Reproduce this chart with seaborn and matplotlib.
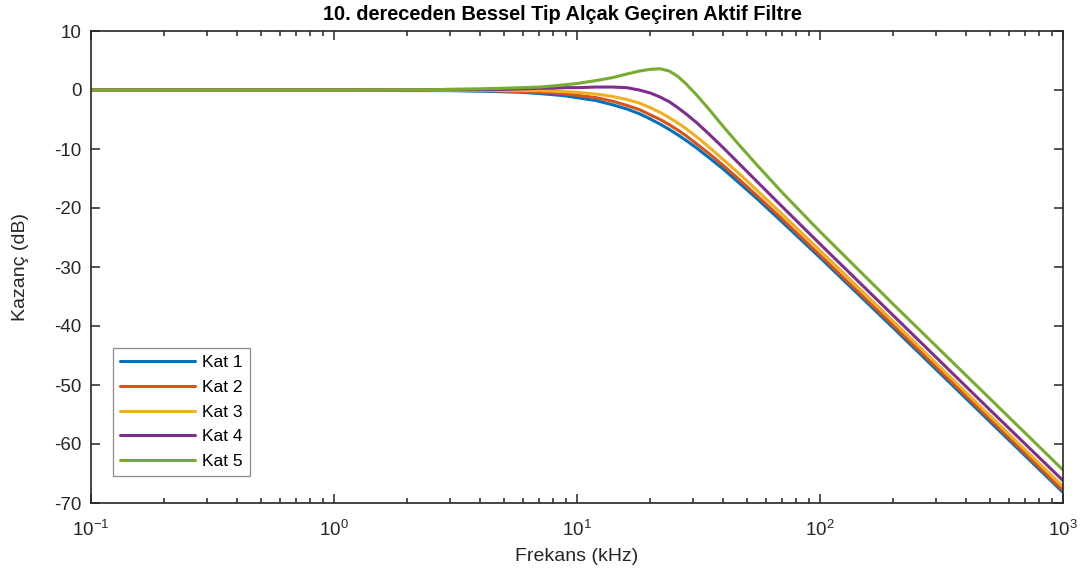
import matplotlib
matplotlib.use("Agg")
import numpy as np
import pandas as pd
import seaborn as sns
import matplotlib.pyplot as plt
from matplotlib.ticker import LogLocator, NullFormatter

# Frequency points (kHz) and gain (dB) of each filter stage
freq_khz = [0.1, 0.5, 1, 2, 3, 4, 5, 6, 7, 8, 9, 10, 12, 14, 16, 18, 20, 22, 24, 26,
            28, 31, 35, 40, 46, 55, 70, 100, 200, 500, 1000]
kat1 = [0.0, 0.0, 0.0, -0.1, -0.1, -0.2, -0.3, -0.4, -0.6, -0.8, -1.0, -1.3, -1.8, -2.5,
        -3.2, -4.0, -4.9, -5.8, -6.7, -7.6, -8.5, -9.8, -11.5, -13.4, -15.6, -18.4, -22.4,
        -28.4, -40.3, -56.2, -68.2]
kat2 = [0.0, 0.0, 0.0, 0.0, -0.1, -0.1, -0.2, -0.3, -0.4, -0.5, -0.7, -0.9, -1.3, -1.9,
        -2.6, -3.3, -4.2, -5.0, -5.9, -6.8, -7.7, -9.1, -10.8, -12.8, -15.0, -17.9, -21.9,
        -28.0, -39.9, -55.8, -67.9]
kat3 = [0.0, 0.0, 0.0, 0.0, 0.0, 0.0, -0.1, -0.1, -0.1, -0.2, -0.3, -0.4, -0.7, -1.1,
        -1.6, -2.2, -3.0, -3.8, -4.7, -5.6, -6.5, -7.9, -9.7, -11.8, -14.0, -17.0, -21.1,
        -27.2, -39.2, -55.2, -67.2]
kat4 = [0.0, 0.0, 0.0, 0.0, 0.1, 0.1, 0.1, 0.2, 0.3, 0.3, 0.4, 0.4, 0.5, 0.5,
        0.4, 0.0, -0.5, -1.2, -2.0, -3.0, -4.0, -5.5, -7.5, -9.8, -12.3, -15.5, -19.8,
        -26.1, -38.2, -54.2, -66.2]
kat5 = [0.0, 0.0, 0.0, 0.0, 0.1, 0.2, 0.3, 0.4, 0.5, 0.7, 0.9, 1.1, 1.6, 2.1,
        2.7, 3.2, 3.5, 3.6, 3.2, 2.3, 1.1, -0.8, -3.3, -6.2, -9.1, -12.7, -17.4,
        -24.0, -36.3, -52.3, -64.4]

labels = ["Kat 1", "Kat 2", "Kat 3", "Kat 4", "Kat 5"]
colors = ["#0072BD", "#D95319", "#EDB120", "#7E2F8E", "#77AC30"]

df = pd.concat(
    [pd.DataFrame({"Frekans": freq_khz, "Kazanc": vals, "Kat": name})
     for name, vals in zip(labels, [kat1, kat2, kat3, kat4, kat5])],
    ignore_index=True,
)

sns.set_theme(style="ticks")
plt.rcParams["font.family"] = ["Liberation Sans", "DejaVu Sans"]
plt.rcParams["axes.unicode_minus"] = False
plt.rcParams["axes.edgecolor"] = "#262626"

fig = plt.figure(figsize=(10.83, 5.78), dpi=100)
ax = fig.add_axes([91 / 1083, 1 - 503 / 578, (1063 - 91) / 1083, (503 - 31) / 578])

sns.lineplot(data=df, x="Frekans", y="Kazanc", hue="Kat", palette=colors,
             linewidth=2.2, ax=ax, sort=False)

ax.set_xscale("log")
ax.set_xlim(0.1, 1000)
ax.set_ylim(-70, 10)
ax.set_yticks(np.arange(-70, 11, 10))
ax.xaxis.set_major_locator(LogLocator(base=10, numticks=10))
ax.xaxis.set_minor_locator(LogLocator(base=10, subs=np.arange(2, 10), numticks=100))
ax.xaxis.set_minor_formatter(NullFormatter())
ax.tick_params(which="both", direction="in", top=True, right=True, labelsize=13.5,
               width=1.1, colors="#262626")
ax.tick_params(which="major", length=6.5)
ax.tick_params(which="minor", length=3.5)
ax.tick_params(axis="x", which="major", pad=12)
ax.tick_params(axis="y", which="major", pad=7)
for s in ax.spines.values():
    s.set_linewidth(1.2)

ax.set_xlabel("Frekans (kHz)", fontsize=14, color="#262626", labelpad=6)
ax.set_ylabel("Kazanç (dB)", fontsize=14, color="#262626", labelpad=18)
ax.set_title("10. dereceden Bessel Tip Alçak Geçiren Aktif Filtre",
             fontsize=14.4, fontweight="bold", color="black", pad=8, x=0.485)

leg = ax.legend(loc="lower left", bbox_to_anchor=(0.0226, 0.057), borderaxespad=0,
                fontsize=12.5, frameon=True, fancybox=False, framealpha=1,
                edgecolor="#8c8c8c", handlelength=4.35, handletextpad=0.4,
                labelspacing=0.55, borderpad=0.4, title=None)
leg.get_frame().set_linewidth(0.9)
for t in leg.get_texts():
    t.set_color("black")

fig.savefig("out.png", dpi=100)
